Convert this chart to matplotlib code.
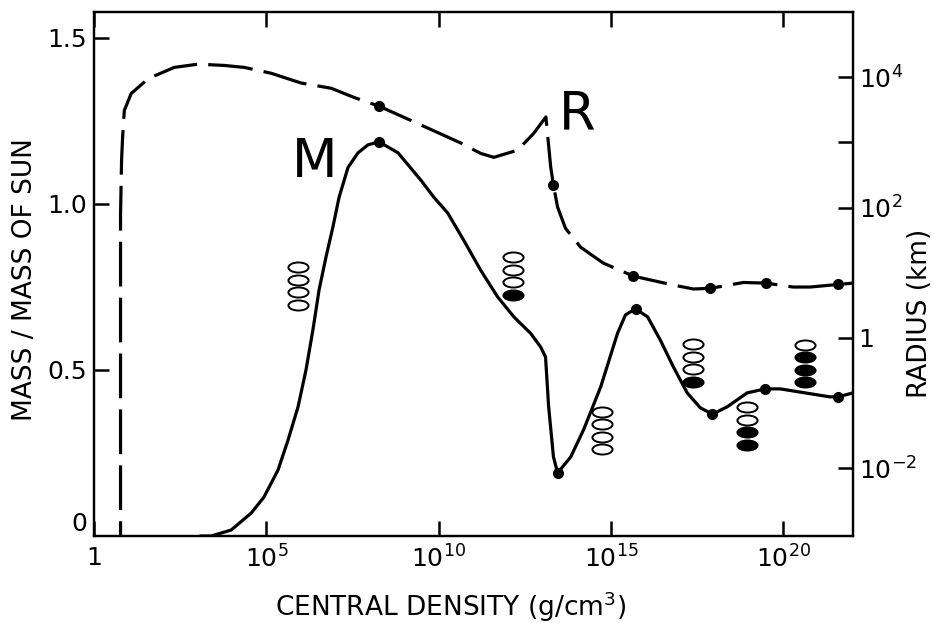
import numpy as np
import matplotlib
matplotlib.use('Agg')
import matplotlib.pyplot as plt
from matplotlib.path import Path
from matplotlib.transforms import Affine2D, ScaledTranslation
from matplotlib.ticker import NullLocator

plt.rcParams['font.family'] = ['DejaVu Sans']
plt.rcParams['mathtext.default'] = 'regular'

# mass curve M: log10(central density), mass / mass of sun
m_logrho = [3.11, 3.40, 3.98, 4.56, 4.93, 5.34, 5.63, 5.92, 6.15, 6.35, 6.53, 6.73, 6.93,
            7.11, 7.37, 7.66, 7.95, 8.27, 8.82, 9.48, 9.86, 10.26, 10.73, 11.22, 11.71,
            12.18, 12.67, 12.96, 13.10, 13.19, 13.33, 13.45, 13.83, 14.20, 14.70, 15.19,
            15.42, 15.71, 16.06, 16.43, 16.81, 17.21, 17.59, 17.94, 18.37, 18.95, 19.47,
            19.91, 21.35, 21.59, 22.02]
m_mass = [0.0, 0.0, 0.018, 0.069, 0.117, 0.199, 0.289, 0.389, 0.50, 0.62, 0.741, 0.84, 0.93,
          1.02, 1.11, 1.154, 1.178, 1.187, 1.154, 1.072, 1.02, 0.973, 0.89, 0.80, 0.72,
          0.66, 0.61, 0.569, 0.539, 0.389, 0.238, 0.19, 0.238, 0.319, 0.449, 0.611,
          0.666, 0.684, 0.66, 0.59, 0.509, 0.431, 0.386, 0.367, 0.389, 0.431, 0.443,
          0.443, 0.419, 0.419, 0.431]
m_dots = [17, 31, 37, 43, 46, 49]

# radius curve R: log10(central density), log10(radius / km)
r_logrho = [0.77, 0.77, 0.77, 0.80, 0.83, 0.88, 1.08, 1.58, 2.33, 3.02, 3.78, 4.36, 5.14,
            6.01, 6.88, 7.54, 8.27, 9.68, 10.64, 11.22, 11.60, 12.29, 12.76, 13.11,
            13.25, 13.33, 13.45, 13.68, 14.12, 14.78, 15.65, 16.81, 17.39, 17.88,
            18.84, 19.50, 20.28, 20.78, 21.59, 22.02]
r_logr = [-3.5, 0.38, 1.90, 2.73, 3.08, 3.49, 3.75, 3.98, 4.15, 4.20, 4.18, 4.15, 4.06,
          3.91, 3.83, 3.69, 3.555, 3.22, 2.99, 2.83, 2.77, 2.88, 3.14, 3.39,
          2.62, 2.34, 2.005, 1.68, 1.39, 1.146, 0.947, 0.81, 0.75, 0.76,
          0.85, 0.84, 0.78, 0.78, 0.82, 0.84]
r_dots = [16, 25, 30, 33, 35, 38]

# oval stacks (4 ovals each): position and number of filled ovals at the bottom
oval_logrho = [5.92, 12.15, 14.75, 17.39, 18.95, 20.63]
oval_mass = [0.753, 0.783, 0.318, 0.521, 0.331, 0.52]
oval_filled = [0, 1, 0, 1, 2, 3]

x_ticks = [0, 5, 10, 15, 20]
x_labels = ['1', '$10^{5}$', '$10^{10}$', '$10^{15}$', '$10^{20}$']
m_ticks = [0, 0.5, 1.0, 1.5]
m_labels = ['0', '0.5', '1.0', '1.5']
r_ticks = [4, 3, 2, 0, -2]
r_labels = ['$10^{4}$', '', '$10^{2}$', '1', '$10^{-2}$']

fig = plt.figure(figsize=(9.34, 6.23), dpi=100)
ax = fig.add_axes([94 / 934, 87 / 623, 759 / 934, 524 / 623])
ax2 = ax.twinx()

ax.set_xscale('log')
ax.set_xlim(1, 10 ** 22.02)
ax.set_ylim(0, 1.578)
ax2.set_yscale('log')
ax2.set_ylim(10 ** -3.04, 1e5)

ax.plot(10 ** np.array(m_logrho), m_mass, color='black', lw=2.3,
        marker='o', ms=7, markevery=m_dots, solid_joinstyle='round')
ax2.plot(10 ** np.array(r_logrho), 10 ** np.array(r_logr), color='black', lw=2.3,
         dashes=(14, 3.5), marker='o', ms=7, markevery=r_dots)

# little oval symbols
oval = Path.unit_circle().transformed(Affine2D().scale(1, 0.5))
for lx, my, nf in zip(oval_logrho, oval_mass, oval_filled):
    for k in range(4):
        dy = (1.5 - k) * 9.0
        tr = ax.transData + ScaledTranslation(0, dy / 72, fig.dpi_scale_trans)
        filled = k >= 4 - nf
        ax.plot([10 ** lx], [my], ls='none', marker=oval, ms=14.5,
                mfc='black' if filled else 'white', mec='black', mew=1.4,
                transform=tr, clip_on=False)

ax.text(10 ** 6.41, 1.127, 'M', fontsize=38, ha='center', va='center')
ax.text(10 ** 14.03, 1.27, 'R', fontsize=38, ha='center', va='center')

for a in (ax, ax2):
    for s in a.spines.values():
        s.set_linewidth(1.6)

ax.set_xticks([10.0 ** v for v in x_ticks])
ax.set_xticklabels(x_labels, fontsize=18)
ax.xaxis.set_minor_locator(NullLocator())
ax.set_yticks(m_ticks)
ax.set_yticklabels(m_labels, fontsize=18)
ax.tick_params(axis='x', direction='in', length=11, width=1.8, top=True, pad=7)
ax.tick_params(axis='y', direction='in', length=11, width=1.8, right=False, pad=5)
ax.get_yticklabels()[0].set_va('bottom')
ax.yaxis.get_major_ticks()[0].tick1line.set_visible(False)

ax2.set_yticks([10.0 ** v for v in r_ticks])
ax2.set_yticklabels(r_labels, fontsize=18)
ax2.yaxis.set_minor_locator(NullLocator())
ax2.tick_params(axis='y', direction='in', length=11, width=1.8, pad=4)

fig.text(451 / 934, 1 - 607 / 623, 'CENTRAL DENSITY (g/cm$^3$)', fontsize=19,
         ha='center', va='center')
fig.text(25 / 934, 1 - 280 / 623, 'MASS / MASS OF SUN', fontsize=19,
         rotation=90, ha='center', va='center')
fig.text(920 / 934, 1 - 313 / 623, 'RADIUS (km)', fontsize=19,
         rotation=90, ha='center', va='center')

fig.savefig('out.png', dpi=100)
